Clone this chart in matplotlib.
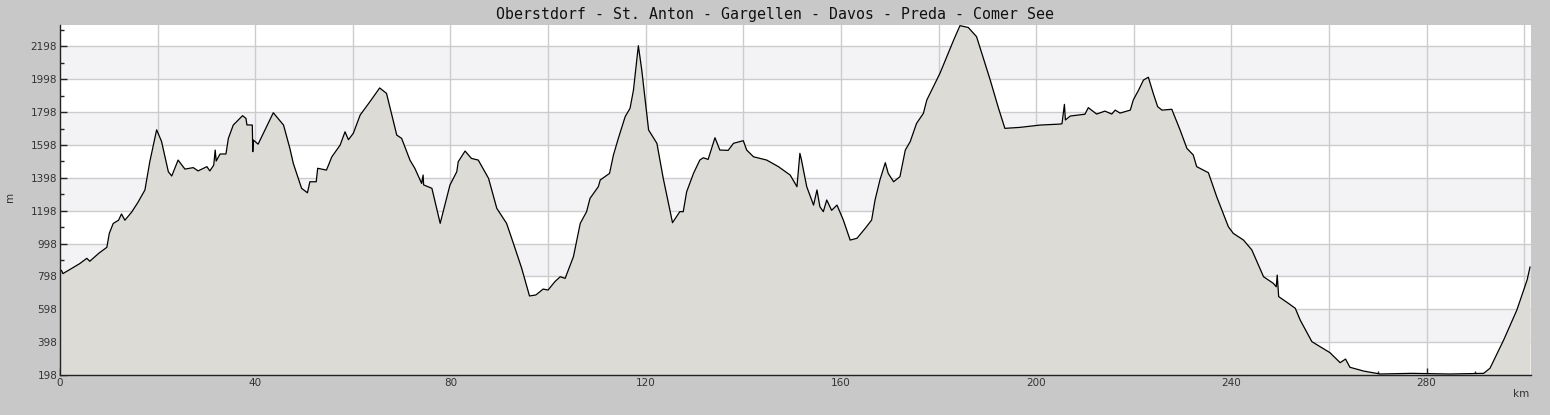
import matplotlib
matplotlib.use("Agg")
import matplotlib.pyplot as plt
import numpy as np
from matplotlib.ticker import MultipleLocator, FixedLocator, FuncFormatter

title = "Oberstdorf - St. Anton - Gargellen - Davos - Preda - Comer See"

km = [0, 0.3, 0.6, 2, 4, 5.5, 6.1, 8, 9.6, 10.1, 10.9, 12.0, 12.6, 13.3, 14.7, 16, 17.4, 18.4,
      19.8, 20.8, 22.2, 22.9, 24.2, 25.6, 27.3, 28.3, 30.1, 30.7, 31.5, 31.8, 32.0, 32.8, 34.0,
      34.5, 35.5, 37.4, 38.1, 38.3, 39.4, 39.5, 39.6, 40.6, 42.0, 43.7, 45.8, 47.1, 47.8, 49.5,
      50.7, 51.2, 52.5, 52.8, 54.6, 55.7, 57.4, 58.4, 59.1, 60.1, 61.5, 63.5, 65.5, 66.9, 69.0,
      70.0, 71.7, 72.7, 74.1, 74.4, 74.5, 76.2, 77.9, 79.9, 81.3, 81.6, 83.0, 84.3, 85.7, 87.8,
      89.5, 91.5, 92.9, 94.6, 96.2, 97.5, 99.0, 100.0, 101.4, 102.5, 103.5, 105.2, 106.6, 107.9,
      108.6, 110.3, 110.7, 112.6, 113.4, 114.4, 115.8, 116.8, 117.5, 118.5, 119.2, 120.6, 122.3,
      123.6, 125.5, 127.0, 127.7, 128.4, 129.8, 131.1, 131.8, 132.8, 134.2, 135.2, 136.9, 138.0,
      140.0, 140.7, 142.1, 144.8, 147.2, 149.6, 151.0, 151.6, 151.9, 153.0, 154.4, 155.1, 155.7,
      156.4, 157.1, 158.1, 159.2, 160.5, 161.9, 163.3, 165.0, 166.3, 167.0, 168.0, 169.1, 169.7,
      170.8, 172.1, 173.2, 174.2, 175.5, 176.9, 177.6, 180.3, 183.1, 184.4, 186.1, 187.8, 190.6,
      192.3, 193.6, 196.7, 200.8, 204.9, 205.3, 205.8, 206.0, 207.0, 210.0, 210.7, 212.4, 214.1,
      215.5, 216.2, 217.2, 219.3, 219.9, 221.0, 222.0, 223.0, 224.0, 224.9, 225.8, 227.8, 229.5,
      230.9, 232.2, 232.9, 235.3, 237.0, 239.4, 240.4, 242.5, 244.2, 246.6, 248.6, 249.2, 249.4,
      249.7, 251.7, 253.1, 254.1, 256.5, 258.2, 260.2, 262.3, 263.4, 264.3, 267.1, 270.5, 277.0,
      284.8, 291.7, 293.0, 295.8, 298.5, 300.6, 301.2]

elev = [830, 835, 815, 840, 875, 908, 890, 940, 975, 1060, 1120, 1140, 1178, 1140, 1190, 1250,
        1324, 1496, 1690, 1620, 1435, 1409, 1506, 1451, 1460, 1440, 1466, 1440, 1475, 1567, 1500,
        1543, 1543, 1638, 1719, 1776, 1760, 1720, 1719, 1557, 1628, 1603, 1689, 1794, 1719, 1577,
        1486, 1334, 1307, 1374, 1374, 1456, 1445, 1526, 1597, 1678, 1630, 1669, 1780, 1861, 1945,
        1912, 1658, 1638, 1506, 1456, 1364, 1415, 1355, 1334, 1121, 1354, 1435, 1496, 1561, 1516,
        1506, 1395, 1212, 1121, 999, 847, 679, 685, 721, 715, 766, 796, 786, 918, 1121, 1192, 1273,
        1344, 1385, 1425, 1537, 1638, 1770, 1821, 1932, 2202, 2054, 1689, 1608, 1395, 1125, 1192,
        1192, 1313, 1425, 1506, 1520, 1510, 1642, 1567, 1565, 1608, 1624, 1567, 1526, 1506, 1466,
        1415, 1344, 1547, 1510, 1344, 1232, 1324, 1222, 1192, 1263, 1200, 1232, 1141, 1019, 1030,
        1091, 1141, 1263, 1385, 1490, 1425, 1374, 1405, 1567, 1618, 1729, 1790, 1871, 2034, 2236,
        2324, 2313, 2257, 1993, 1821, 1699, 1705, 1719, 1725, 1727, 1845, 1750, 1774, 1785, 1825,
        1786, 1804, 1786, 1810, 1792, 1810, 1871, 1932, 1993, 2010, 1912, 1831, 1810, 1815, 1689,
        1577, 1537, 1466, 1429, 1283, 1100, 1060, 1019, 959, 796, 756, 735, 806, 675, 634, 604,
        533, 401, 370, 334, 273, 295, 245, 222, 204, 208, 204, 208, 239, 411, 593, 776, 855]

y_ticks = [198, 398, 598, 798, 998, 1198, 1398, 1598, 1798, 1998, 2198]
x_labels = [0, 40, 80, 120, 160, 200, 240, 280]

bg = "#c8c8c8"
fig = plt.figure(figsize=(15.5, 4.15), dpi=100, facecolor=bg)
ax = fig.add_axes([60/1550, 40/415, 1471/1550, 350/415])
ax.set_facecolor("white")

ymin, ymax = 198, 2328
xmin, xmax = 0, 301.4
ax.set_xlim(xmin, xmax)
ax.set_ylim(ymin, ymax)

# alternating bands
for i, lo in enumerate(y_ticks[:-1]):
    if i % 2 == 1:
        ax.axhspan(lo, lo + 200, color="#f3f2f5", zorder=0, lw=0)

# grid
for yv in y_ticks:
    ax.axhline(yv, color="#cccccc", lw=1.0, zorder=1)
for xv in np.arange(20, 301, 20):
    ax.axvline(xv, color="#cccccc", lw=1.0, zorder=1)

ax.fill_between(km, elev, ymin, color="#dcdbd6", lw=0, zorder=2)
ax.plot(km, elev, color="black", lw=0.9, zorder=3)

for s in ["top", "right"]:
    ax.spines[s].set_visible(False)
for s in ["left", "bottom"]:
    ax.spines[s].set_color("#222222")
    ax.spines[s].set_linewidth(1.0)
    ax.spines[s].set_zorder(5)

ax.xaxis.set_major_locator(MultipleLocator(20))
ax.xaxis.set_minor_locator(MultipleLocator(10))
ax.xaxis.set_major_formatter(FuncFormatter(lambda v, p: f"{int(round(v))}" if int(round(v)) in x_labels else ""))
ax.yaxis.set_major_locator(FixedLocator(y_ticks))
ax.yaxis.set_minor_locator(FixedLocator([v + 100 for v in y_ticks]))
ax.tick_params(axis="both", which="major", direction="in", length=5, width=1, color="#222222",
               labelsize=7.5, labelcolor="#333333", pad=2)
ax.tick_params(axis="both", which="minor", direction="in", length=3, width=1, color="#222222")

fig.text(10/1550, 1 - 197/415, "m", rotation=90, ha="center", va="center", fontsize=7.5, color="#333333")
fig.text(1521/1550, 1 - 394/415, "km", ha="center", va="center", fontsize=7.5, color="#333333")
fig.text(775/1550, 1 - 14/415, title, ha="center", va="center", fontsize=10.7,
         family="DejaVu Sans Mono", color="#111111")

fig.savefig("out.png", dpi=100, facecolor=bg)
